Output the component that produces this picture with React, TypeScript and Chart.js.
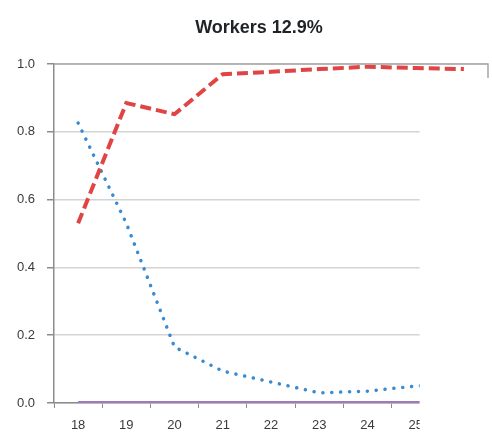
import React, { useEffect, useRef } from "react";
import { Chart, registerables } from "chart.js";

Chart.register(...registerables);

const categories = ["18", "19", "20", "21", "22", "23", "24", "25", "26"];
const redSeries = [0.53, 0.885, 0.852, 0.97, 0.977, 0.985, 0.992, 0.988, 0.985];
const blueSeries = [0.826, 0.53, 0.165, 0.094, 0.062, 0.03, 0.035, 0.05, 0.06];
const purpleSeries = [0, 0, 0, 0, 0, 0, 0, 0, 0];
const yTicks = [0, 0.2, 0.4, 0.6, 0.8, 1.0];
const titleText = "Workers 12.9%";

const framePlugin = {
  id: "frameAndMask",
  afterLayout(chart: any) {
    const t = chart.titleBlock;
    if (t) {
      t.left = 30;
      t.right = chart.chartArea.right;
      t.width = t.right - t.left;
    }
  },
  afterDraw(chart: any) {
    const { ctx, chartArea } = chart;
    const xs = chart.scales.x;
    ctx.save();
    ctx.strokeStyle = "#a6a6a6";
    ctx.lineWidth = 1.5;
    ctx.beginPath();
    ctx.moveTo(chartArea.left, chartArea.top);
    ctx.lineTo(chartArea.right, chartArea.top);
    ctx.lineTo(chartArea.right, chartArea.bottom);
    ctx.stroke();
    // white mask (the reference picture is cropped here)
    const mx = xs.getPixelForValue(7) + 4;
    const my = chartArea.top + 14;
    ctx.fillStyle = "#ffffff";
    ctx.fillRect(mx, my, chart.width - mx, chart.height - my);
    ctx.restore();
  },
};

export default function App() {
  const ref = useRef<HTMLCanvasElement | null>(null);
  useEffect(() => {
    if (!ref.current) return;
    const chart = new Chart(ref.current, {
      type: "line",
      data: {
        labels: categories,
        datasets: [
          {
            label: "purple",
            data: purpleSeries,
            borderColor: "#9f78bf",
            borderWidth: 4,
            pointRadius: 0,
            tension: 0,
            order: 3,
          },
          {
            label: "blue",
            data: blueSeries,
            borderColor: "#3a8ad0",
            borderWidth: 3.5,
            borderDash: [0.1, 8.8],
            borderCapStyle: "round",
            pointRadius: 0,
            tension: 0,
            order: 2,
          },
          {
            label: "red",
            data: redSeries,
            borderColor: "#e04444",
            borderWidth: 4,
            borderDash: [11, 5],
            pointRadius: 0,
            tension: 0,
            order: 1,
          },
        ],
      },
      options: {
        responsive: false,
        animation: false,
        layout: { padding: { left: 0, right: 4, top: 0, bottom: 0 } },
        plugins: {
          legend: { display: false },
          tooltip: { enabled: false },
          title: {
            display: true,
            text: titleText,
            color: "#1f2226",
            font: { family: "Liberation Sans", size: 18, weight: "bold" },
            padding: { top: 17, bottom: 25.4 },
          },
        },
        scales: {
          x: {
            offset: true,
            grid: {
              offset: true,
              drawOnChartArea: false,
              drawTicks: true,
              tickLength: 5,
              color: "#8c8c8c",
            },
            border: { display: true, color: "#8c8c8c", width: 1.5 },
            ticks: {
              color: "#3a3a3a",
              font: { family: "Liberation Sans", size: 13 },
              padding: 10,
              maxRotation: 0,
              autoSkip: false,
            },
            afterFit: (s: any) => {
              s.height = 36;
            },
          },
          y: {
            min: 0,
            max: 1,
            afterBuildTicks: (s: any) => {
              s.ticks = yTicks.map((v) => ({ value: v }));
            },
            grid: {
              color: "#d4d4d4",
              lineWidth: 1.5,
              tickLength: 7,
              tickColor: "#8c8c8c",
            },
            border: { display: true, color: "#8c8c8c", width: 1.5 },
            ticks: {
              color: "#3a3a3a",
              font: { family: "Liberation Sans", size: 13 },
              padding: 12,
              callback: (v: any) => Number(v).toFixed(1),
            },
            afterFit: (s: any) => {
              s.width = 54;
            },
          },
        },
      },
      plugins: [framePlugin],
    });
    return () => chart.destroy();
  }, []);
  return (
    <div style={{ position: "fixed", left: 0, top: 0, width: 492, height: 439, background: "#fff" }}>
      <canvas ref={ref} width={492} height={439} style={{ display: "block" }} />
    </div>
  );
}
